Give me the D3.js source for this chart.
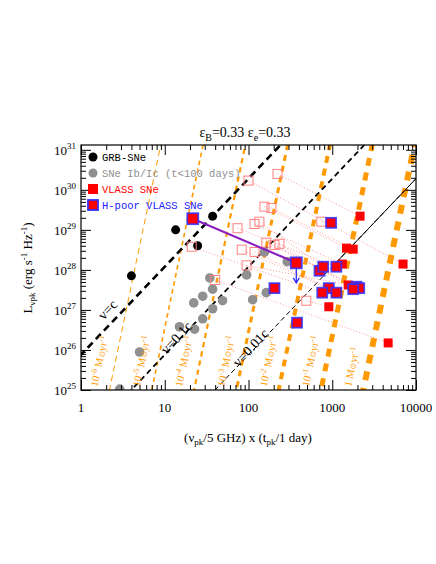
<!DOCTYPE html>
<html><head><meta charset="utf-8">
<script src="https://cdn.jsdelivr.net/npm/d3@7"></script>
<style>body{margin:0;background:#fff}</style>
</head><body><div id="chart"></div>
<script>
// ---- data (x = (nu_pk/5GHz)*(t_pk/1day), L in erg/s/Hz) ----
const grbX = [4.0, 13.5, 24.7, 37.3];
const grbL = [7.1e27, 1e29, 4e28, 2.2e29];

const ibcX = [2.9, 5.0, 15, 22.7, 28.4, 37.3, 22.2, 28.4, 49, 37.3, 34.5, 95, 112, 163, 155, 290];
const ibcL = [1.05e25, 8.9e25, 3.8e26, 3.3e26, 6e26, 1.07e27, 1.5e27, 2.2e27, 1.7e27, 3.3e27, 6.3e27, 7.5e27, 1.8e27, 2.7e27, 2.8e28, 1.6e28];

// early (open) VLASS epochs
const openX = [222, 100, 155, 188, 74, 118, 135, 163, 204, 234, 83, 118, 95, 40, 21, 490, 740];
const openL = [2.5e30, 1.7e30, 3.8e29, 3.5e29, 1.1e29, 1.4e29, 1.6e29, 4.8e28, 4.2e28, 4.5e28, 3.2e28, 2.8e28, 1.3e28, 5.6e27, 3.8e28, 1.7e27, 1.6e29];

const vlassX = [2150, 1480, 1780, 1320, 1550, 910, 4650, 7000];
const vlassL = [2.2e29, 3.5e28, 3.3e28, 1.4e28, 4.2e27, 1.2e27, 1.5e26, 1.4e28];

const hpoorX = [21.6, 372, 970, 705, 780, 1120, 204, 910, 760, 1120, 1950, 2100, 1780, 380];
const hpoorL = [1.9e29, 1.5e28, 1.5e29, 9.5e27, 1.2e28, 1.2e28, 3.5e27, 3.5e27, 2.7e27, 2.7e27, 3.8e27, 3.5e27, 3.3e27, 4.8e26];

// open index -> filled index (vlass 0..7, then hpoor 8..)
const links = [[0,0],[1,7],[2,1],[3,2],[16,10],[4,13],[5,3],[6,12],[7,18],[8,19],[9,20],[10,17],[11,15],[12,4],[13,6],[14,16],[15,5]];

const mdotExp = [-6, -5, -4, -3, -2, -1, 0];
const mdotLogX0 = [0.34, 0.845, 1.35, 1.855, 2.36, 2.865, 3.37]; // log x where L=1e25
const mdotSlope = 10;
const velLabels = ["v=c", "v=0.1c", "v=0.01c"];
const velLogX0 = [-0.4, 0.6, 1.6];
const velSlope = 2.2;

const xTicks = [1, 10, 100, 1000, 10000];
const yExp = [25, 26, 27, 28, 29, 30, 31];

// ---- layout ----
const width = 436, height = 564;
const margin = { top: 145, right: 20, bottom: 174, left: 81 };
const innerWidth = width - margin.left - margin.right;
const innerHeight = height - margin.top - margin.bottom;

const svg = d3.select("#chart").append("svg")
  .attr("width", width).attr("height", height)
  .style("font-family", "'Liberation Serif', serif");

const xScale = d3.scaleLog().domain([1, 10000]).range([0, innerWidth]);
const yScale = d3.scaleLog().domain([1e25, Math.pow(10, 31.12)]).range([innerHeight, 0]);

svg.append("defs").append("clipPath").attr("id", "clip")
  .append("rect").attr("width", innerWidth).attr("height", innerHeight);

const g = svg.append("g").attr("transform", `translate(${margin.left}, ${margin.top})`);
const plot = g.append("g").attr("clip-path", "url(#clip)");

// title
svg.append("text").attr("x", 245).attr("y", 137).attr("text-anchor", "middle")
  .attr("font-size", 14)
  .html('ε<tspan dy="4" font-size="10">B</tspan><tspan dy="-4">=0.33  ε</tspan><tspan dy="4" font-size="10">e</tspan><tspan dy="-4">=0.33</tspan>');

// mass-loss lines
const orange = "#ff9900";
const lineGen = d3.line().x(d => xScale(d[0])).y(d => yScale(d[1]));
mdotExp.forEach((e, k) => {
  const w = [1, 1.6, 2.2, 3, 4, 5, 6][k];
  const lx0 = mdotLogX0[k];
  const pts = [[Math.pow(10, lx0 - 0.1), Math.pow(10, 24)], [Math.pow(10, lx0 + 0.75), Math.pow(10, 25 + mdotSlope * 0.75)]];
  plot.append("path").attr("d", lineGen(pts)).attr("fill", "none")
    .attr("stroke", orange).attr("stroke-width", w)
    .attr("stroke-dasharray", k === 0 ? "6,4" : `${w + 3},${w + 2}`);
  const lx = xScale(Math.pow(10, lx0)) - 12, ly = innerHeight - 3;
  g.append("text").attr("transform", `translate(${lx},${ly}) rotate(-78)`)
    .attr("fill", orange).attr("font-size", 10.5)
    .html(e === 0 ? '1  M<tspan font-size="8">⊙</tspan>yr<tspan dy="-4" font-size="8">-1</tspan>'
      : `10<tspan dy="-4" font-size="8">${e}</tspan><tspan dy="4"> M</tspan><tspan font-size="8">⊙</tspan>yr<tspan dy="-4" font-size="8">-1</tspan>`);
});

// velocity lines
velLogX0.forEach((lx0, j) => {
  const w = [2.6, 1.8, 1][j];
  const pts = [[Math.pow(10, lx0 - 0.2), Math.pow(10, 25 - velSlope * 0.2)], [Math.pow(10, lx0 + 3.2), Math.pow(10, 25 + velSlope * 3.2)]];
  plot.append("path").attr("d", lineGen(pts)).attr("fill", "none")
    .attr("stroke", "#000").attr("stroke-width", w)
    .attr("stroke-dasharray", j === 2 ? "5,3" : `${w * 2 + 2},${w + 2}`);
  if (j === 2) {
    const p2 = [[1000, Math.pow(10, 25 + velSlope * (3 - lx0))], pts[1]];
    plot.append("path").attr("d", lineGen(p2)).attr("stroke", "#000").attr("stroke-width", 1);
  }
  const lL = [26.85, 26.3, 26.05][j];
  const lx = xScale(Math.pow(10, lx0 + (lL - 25) / velSlope));
  const ly = yScale(Math.pow(10, lL));
  const off = [7, 1, 1][j];
  g.append("text").attr("transform", `translate(${lx - off},${ly - off + 4}) rotate(-47)`)
    .attr("text-anchor", "middle").attr("font-size", 14).text(velLabels[j]);
});

// dotted links
links.forEach(([o, f]) => {
  const fx = f < 8 ? vlassX[f] : hpoorX[f - 8];
  const fl = f < 8 ? vlassL[f] : hpoorL[f - 8];
  plot.append("path").attr("d", lineGen([[openX[o], openL[o]], [fx, fl]]))
    .attr("stroke", "#ff8080").attr("stroke-width", 0.8).attr("stroke-dasharray", "1,2").attr("fill", "none");
});

// GRB & Ib/c
plot.selectAll(".ibc").data(ibcX).join("circle").attr("cx", d => xScale(d))
  .attr("cy", (d, i) => yScale(ibcL[i])).attr("r", 4.8).attr("fill", "#909090");
plot.selectAll(".grb").data(grbX).join("circle").attr("cx", d => xScale(d))
  .attr("cy", (d, i) => yScale(grbL[i])).attr("r", 4.5).attr("fill", "#000");

// open squares
plot.selectAll(".open").data(openX).join("rect")
  .attr("x", d => xScale(d) - 4.5).attr("y", (d, i) => yScale(openL[i]) - 4.5)
  .attr("width", 9).attr("height", 9).attr("fill", "none").attr("stroke", "#ff8080").attr("stroke-width", 1);

// H-poor track with upper limit
plot.append("path").attr("d", lineGen([[hpoorX[0], hpoorL[0]], [hpoorX[1], hpoorL[1]]]))
  .attr("stroke", "#8a1fc0").attr("stroke-width", 2.2);
const ax = xScale(hpoorX[1]), ay = yScale(hpoorL[1]);
plot.append("line").attr("x1", ax).attr("x2", ax).attr("y1", ay).attr("y2", ay + 20).attr("stroke", "#2020ff").attr("stroke-width", 1.2);
plot.append("path").attr("d", `M${ax - 3},${ay + 15}L${ax},${ay + 20}L${ax + 3},${ay + 15}`).attr("stroke", "#2020ff").attr("fill", "none").attr("stroke-width", 1.2);

// filled squares
plot.selectAll(".vl").data(vlassX).join("rect")
  .attr("x", d => xScale(d) - 4.5).attr("y", (d, i) => yScale(vlassL[i]) - 4.5)
  .attr("width", 9).attr("height", 9).attr("fill", "#ff0000");
plot.selectAll(".hp").data(hpoorX).join("rect")
  .attr("x", (d, i) => xScale(d) - (i < 2 ? 5.5 : 5)).attr("y", (d, i) => yScale(hpoorL[i]) - (i < 2 ? 5.5 : 5))
  .attr("width", (d, i) => i < 2 ? 11 : 10).attr("height", (d, i) => i < 2 ? 11 : 10)
  .attr("fill", "#ff0000").attr("stroke", "#3030ff").attr("stroke-opacity", 0.85).attr("stroke-width", 1.8);

// axes (ticks inward, all sides)
const xb = d3.axisBottom(xScale).tickSizeOuter(0);
const xt = d3.axisTop(xScale).tickSizeOuter(0);
const yl = d3.axisLeft(yScale).tickSizeOuter(0);
const yr = d3.axisRight(yScale).tickSizeOuter(0);
const axB = g.append("g").attr("transform", `translate(0,${innerHeight})`).call(xb);
const axT = g.append("g").call(xt);
const axL = g.append("g").call(yl);
const axR = g.append("g").attr("transform", `translate(${innerWidth},0)`).call(yr);
const isMajor = d => Math.abs(Math.log10(d) - Math.round(Math.log10(d))) < 1e-6;
[axB, axT].forEach(a => a.selectAll(".tick line").attr("y2", d => (a === axB ? -1 : 1) * (isMajor(d) ? 10 : 5)));
[axL, axR].forEach(a => a.selectAll(".tick line").attr("x2", d => (a === axL ? 1 : -1) * (isMajor(d) ? 10 : 5)));
[axB, axT, axL, axR].forEach(a => { a.selectAll(".tick text").remove(); a.select(".domain").remove(); });
g.append("rect").attr("width", innerWidth).attr("height", innerHeight).attr("fill", "none").attr("stroke", "#000").attr("stroke-width", 1.2);

// tick labels
g.selectAll(".xl").data(xTicks).join("text").attr("x", d => xScale(d)).attr("y", innerHeight + 22)
  .attr("text-anchor", "middle").attr("font-size", 13).text(d => d);
g.selectAll(".yl").data(yExp).join("text").attr("x", -5).attr("y", d => yScale(Math.pow(10, d)) + 5)
  .attr("text-anchor", "end").attr("font-size", 13)
  .html(d => `10<tspan dy="-6" font-size="9">${d}</tspan>`);

// axis titles
svg.append("text").attr("x", 248).attr("y", 442).attr("text-anchor", "middle").attr("font-size", 13)
  .html('(ν<tspan dy="3" font-size="9">pk</tspan><tspan dy="-3">/5 GHz) x (t</tspan><tspan dy="3" font-size="9">pk</tspan><tspan dy="-3">/1 day)</tspan>');
svg.append("text").attr("transform", "translate(32,268) rotate(-90)").attr("text-anchor", "middle").attr("font-size", 13)
  .html('L<tspan dy="3" font-size="9">νpk</tspan><tspan dy="-3"> (erg s</tspan><tspan dy="-5" font-size="9">-1</tspan><tspan dy="5"> Hz</tspan><tspan dy="-5" font-size="9">-1</tspan><tspan dy="5">)</tspan>');

// legend
const leg = [
  { t: "GRB-SNe", c: "#000", m: "c", f: "#000" },
  { t: "SNe Ib/Ic (t<100 days)", c: "#909090", m: "c", f: "#909090" },
  { t: "VLASS SNe", c: "#ff0000", m: "s", f: "#ff0000" },
  { t: "H-poor VLASS SNe", c: "#2020ff", m: "h", f: "#ff0000" }
];
leg.forEach((d, i) => {
  const y = 12 + i * 16;
  if (d.m === "c") g.append("circle").attr("cx", 12).attr("cy", y).attr("r", 4.5).attr("fill", d.f);
  else g.append("rect").attr("x", 7).attr("y", y - 5).attr("width", 10).attr("height", 10).attr("fill", d.f)
    .attr("stroke", d.m === "h" ? "#3030ff" : "none").attr("stroke-width", 1.8);
  g.append("text").attr("x", 21).attr("y", y + 4).attr("font-size", 10.5)
    .attr("font-family", "'Liberation Mono', monospace").attr("fill", d.c).text(d.t);
});
</script></body></html>
